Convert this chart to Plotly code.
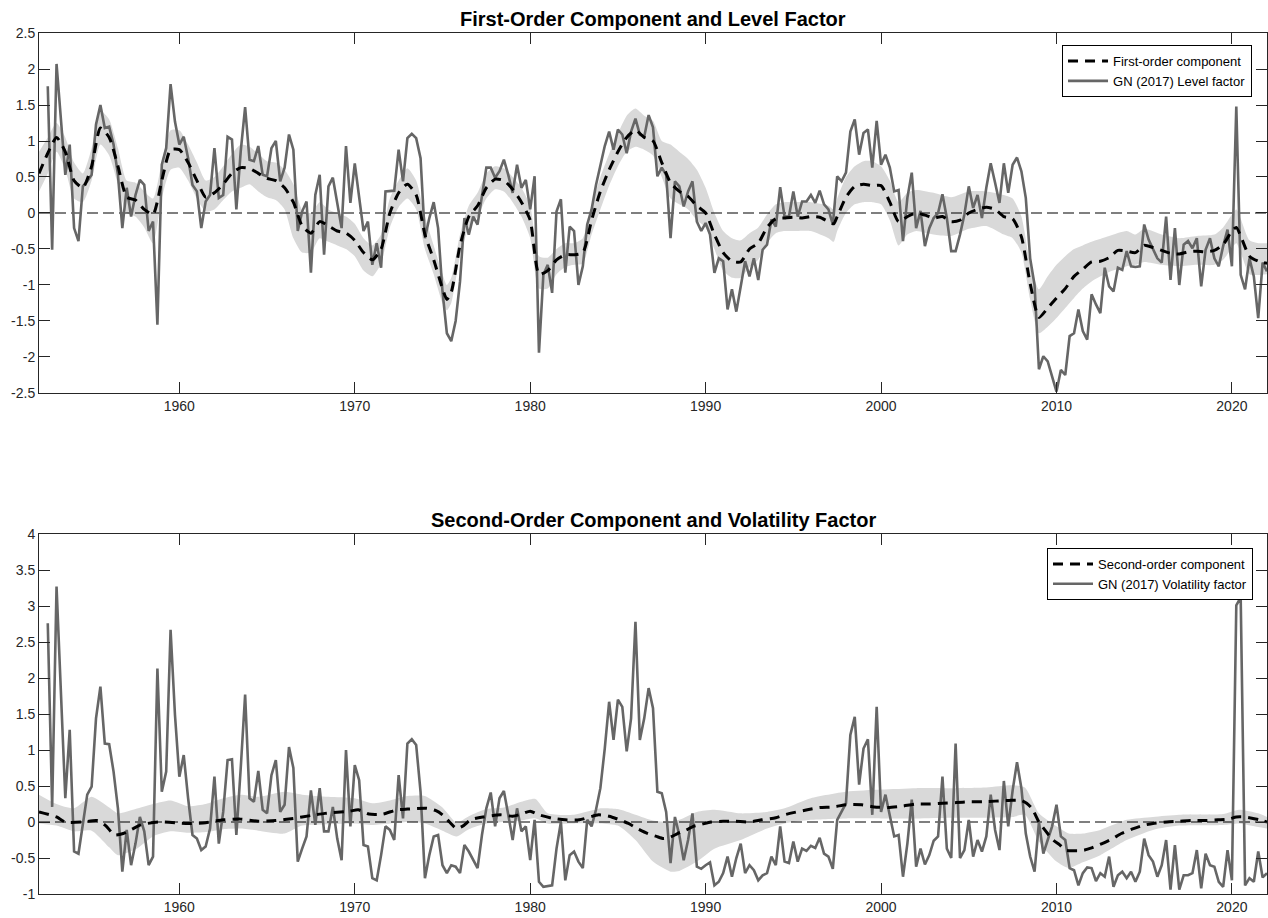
import numpy as np
import plotly.graph_objects as go

# ---------------- data ----------------
# quarterly observation dates (decimal years)
quarter_dates = np.arange(1952.5, 2022.0 + 0.125, 0.25)

# GN (2017) level factor, quarterly
gn_level = [
    1.76, -0.51, 2.07, 1.23, 0.53, 0.95, -0.21, -0.39, 0.37, 0.44,
    0.53, 1.23, 1.50, 1.18, 1.20, 0.95, 0.53, -0.21, 0.35, -0.05,
    0.25, 0.46, 0.39, -0.25, -0.12, -1.55, 0.67, 0.90, 1.79, 1.27,
    0.95, 1.06, 0.76, 0.39, 0.30, -0.21, 0.16, 0.25, 0.90, 0.21,
    0.25, 1.06, 1.02, 0.05, 0.86, 1.47, 0.74, 0.72, 0.93, 0.53,
    0.51, 0.90, 1.00, 0.44, 0.63, 1.09, 0.88, -0.25, 0.02, 0.16,
    -0.83, 0.25, 0.53, -0.58, 0.37, 0.49, 0.16, -0.21, 0.93, 0.14,
    0.69, 0.25, -0.25, -0.12, -0.72, -0.42, -0.76, 0.30, 0.31, 0.31,
    0.88, 0.44, 1.04, 1.10, 1.04, 0.76, -0.35, -0.07, 0.15, -0.21,
    -1.09, -1.67, -1.78, -1.50, -0.95, -0.07, -0.30, -0.05, -0.16, 0.23,
    0.63, 0.63, 0.49, 0.58, 0.74, 0.53, 0.28, 0.67, 0.35, 0.46,
    0.05, 0.51, -1.94, -0.86, -0.72, -1.11, 0.02, 0.19, -0.83, -0.19,
    -0.25, -1.00, -0.74, -0.16, 0.05, 0.39, 0.67, 0.93, 1.13, 0.88,
    1.16, 1.09, 0.83, 1.13, 1.31, 1.09, 1.06, 1.36, 1.19, 0.51,
    0.63, 0.53, -0.35, 0.44, 0.37, 0.09, 0.30, 0.44, -0.12, -0.25,
    -0.14, -0.30, -0.83, -0.63, -0.67, -1.34, -1.06, -1.37, -1.02, -0.67,
    -0.88, -0.63, -0.93, -0.51, -0.44, -0.09, -0.19, 0.36, -0.05, -0.05,
    0.30, -0.05, 0.16, 0.16, 0.25, 0.14, 0.31, 0.12, 0.05, -0.16,
    0.51, 0.44, 0.56, 1.13, 1.30, 0.81, 1.11, 1.16, 0.63, 1.28,
    0.67, 0.81, 0.63, 0.30, 0.32, -0.39, 0.21, 0.56, -0.21, 0.03,
    -0.46, -0.21, -0.07, 0.00, 0.26, -0.07, -0.53, -0.53, -0.30, -0.02,
    0.37, 0.07, 0.25, -0.07, 0.35, 0.69, 0.42, 0.14, 0.69, 0.28,
    0.67, 0.77, 0.58, 0.21, -0.63, -1.00, -2.17, -1.99, -2.06, -2.29,
    -2.48, -2.18, -2.25, -1.71, -1.67, -1.34, -1.64, -1.76, -1.13, -1.27,
    -1.39, -0.76, -1.02, -1.09, -0.76, -0.79, -0.53, -0.74, -0.75, -0.74,
    -0.16, -0.37, -0.49, -0.63, -0.69, -0.05, -0.93, -0.21, -1.00, -0.44,
    -0.39, -0.49, -0.35, -1.02, -0.51, -0.35, -0.63, -0.74, -0.46, -0.23,
    -0.74, 1.48, -0.86, -1.06, -0.63, -0.88, -1.46, -0.69, -0.81,
]

# GN (2017) volatility factor, quarterly
gn_vol = [
    2.76, 0.21, 3.27, 1.70, 0.33, 1.28, -0.41, -0.44, -0.04, 0.38,
    0.49, 1.44, 1.88, 1.09, 1.08, 0.70, 0.19, -0.69, -0.11, -0.60,
    -0.30, 0.07, -0.13, -0.60, -0.48, 2.13, 0.42, 0.70, 2.67, 1.49,
    0.63, 0.93, 0.33, -0.18, -0.23, -0.39, -0.34, -0.09, 0.63, -0.30,
    0.14, 0.86, 0.87, -0.18, 0.75, 1.77, 0.33, 0.28, 0.71, 0.17,
    0.12, 0.65, 0.86, 0.14, 0.24, 1.04, 0.75, -0.55, -0.37, -0.20,
    0.44, -0.04, 0.47, -0.13, -0.13, 0.21, -0.23, -0.53, 1.00, -0.06,
    0.79, 0.58, -0.32, -0.34, -0.78, -0.81, -0.46, -0.06, -0.11, -0.25,
    0.65, 0.05, 1.09, 1.15, 1.07, 0.42, -0.78, -0.46, -0.20, -0.18,
    -0.60, -0.71, -0.60, -0.62, -0.71, -0.32, -0.41, -0.53, -0.64, -0.18,
    0.19, 0.41, -0.06, 0.33, 0.43, 0.10, -0.25, 0.19, -0.13, -0.06,
    -0.53, 0.03, -0.83, -0.90, -0.89, -0.88, -0.37, 0.00, -0.81, -0.46,
    -0.41, -0.55, -0.64, 0.03, -0.06, 0.17, 0.47, 1.02, 1.67, 1.14,
    1.70, 1.60, 0.98, 1.44, 2.78, 1.14, 1.44, 1.86, 1.58, 0.42,
    0.40, 0.14, -0.57, 0.07, -0.18, -0.53, -0.25, 0.12, -0.62, -0.65,
    -0.60, -0.56, -0.88, -0.83, -0.71, -0.48, -0.76, -0.50, -0.30, -0.71,
    -0.60, -0.67, -0.81, -0.74, -0.71, -0.48, -0.60, -0.06, -0.55, -0.57,
    -0.27, -0.55, -0.37, -0.40, -0.33, -0.36, -0.22, -0.44, -0.48, -0.65,
    0.03, 0.14, 0.26, 1.21, 1.46, 0.52, 1.02, 1.15, 0.10, 1.60,
    0.14, 0.38, 0.07, -0.20, -0.18, -0.76, -0.30, 0.31, -0.62, -0.37,
    -0.59, -0.46, -0.26, -0.20, 0.63, -0.37, -0.50, 1.09, -0.50, -0.39,
    0.03, -0.48, -0.25, -0.41, -0.20, 0.38, -0.11, -0.39, 0.57, -0.06,
    0.44, 0.83, 0.47, -0.16, -0.48, -0.69, 0.00, -0.44, -0.25, -0.06,
    0.24, -0.20, -0.25, -0.64, -0.67, -0.88, -0.71, -0.63, -0.64, -0.82,
    -0.71, -0.76, -0.48, -0.90, -0.74, -0.69, -0.78, -0.69, -0.83, -0.69,
    -0.23, -0.46, -0.55, -0.76, -0.60, -0.25, -0.94, -0.32, -0.94, -0.74,
    -0.74, -0.71, -0.39, -0.92, -0.44, -0.60, -0.62, -0.83, -0.90, -0.39,
    -0.81, 3.01, 3.12, -0.88, -0.78, -0.83, -0.41, -0.77, -0.71,
]

# First-order component (posterior mean)
first_years = [
    1952.0, 1952.5, 1953.0, 1953.5, 1954.0, 1954.5, 1955.0, 1955.5, 1956.0, 1956.5,
    1957.0, 1957.5, 1958.0, 1958.5, 1959.0, 1959.5, 1960.0, 1960.5, 1961.0, 1961.5,
    1962.0, 1962.5, 1963.0, 1963.5, 1964.0, 1964.5, 1965.0, 1965.5, 1966.0, 1966.5,
    1967.0, 1967.5, 1968.0, 1968.5, 1969.0, 1969.5, 1970.0, 1970.5, 1971.0, 1971.5,
    1972.0, 1972.5, 1973.0, 1973.5, 1974.0, 1974.5, 1975.0, 1975.25, 1975.5, 1976.0,
    1976.5, 1977.0, 1977.5, 1978.0, 1978.5, 1979.0, 1979.5, 1980.0, 1980.5, 1981.0,
    1981.5, 1982.0, 1982.5, 1983.0, 1983.5, 1984.0, 1984.5, 1985.0, 1985.5, 1986.0,
    1986.5, 1987.0, 1987.5, 1988.0, 1988.5, 1989.0, 1989.5, 1990.0, 1990.5, 1991.0,
    1991.5, 1992.0, 1992.5, 1993.0, 1993.5, 1994.0, 1994.5, 1995.0, 1995.5, 1996.0,
    1996.5, 1997.0, 1997.3, 1997.5, 1998.0, 1998.5, 1999.0, 1999.5, 2000.0, 2000.5,
    2001.0, 2001.5, 2002.0, 2002.5, 2003.0, 2003.5, 2004.0, 2004.5, 2005.0, 2005.5,
    2006.0, 2006.5, 2007.0, 2007.5, 2008.0, 2008.5, 2009.0, 2009.5, 2010.0, 2010.5,
    2011.0, 2011.5, 2012.0, 2012.5, 2013.0, 2013.5, 2014.0, 2014.5, 2015.0, 2015.5,
    2016.0, 2016.5, 2017.0, 2017.5, 2018.0, 2018.5, 2019.0, 2019.5, 2020.0, 2020.25,
    2020.5, 2021.0, 2021.5, 2022.0,
]
first_comp = [
    0.55, 0.83, 1.05, 0.85, 0.45, 0.35, 0.65, 1.18, 1.05, 0.65,
    0.22, 0.18, 0.05, -0.02, 0.45, 0.88, 0.88, 0.70, 0.45, 0.22,
    0.28, 0.40, 0.55, 0.63, 0.62, 0.55, 0.48, 0.45, 0.35, 0.15,
    -0.18, -0.28, -0.12, -0.18, -0.25, -0.28, -0.38, -0.55, -0.65, -0.50,
    0.00, 0.28, 0.40, 0.25, -0.30, -0.65, -1.05, -1.20, -1.10, -0.45,
    -0.05, 0.10, 0.35, 0.47, 0.45, 0.33, 0.15, -0.10, -0.85, -0.80,
    -0.65, -0.58, -0.58, -0.55, -0.10, 0.30, 0.60, 0.85, 1.05, 1.15,
    1.05, 1.00, 0.70, 0.42, 0.30, 0.23, 0.10, 0.00, -0.30, -0.55,
    -0.67, -0.68, -0.50, -0.42, -0.20, -0.08, -0.07, -0.06, -0.07, -0.05,
    -0.06, -0.12, -0.15, -0.05, 0.22, 0.37, 0.40, 0.38, 0.38, 0.15,
    -0.12, -0.05, 0.00, -0.03, -0.07, -0.05, -0.12, -0.10, 0.00, 0.05,
    0.08, 0.05, -0.05, -0.08, -0.33, -0.98, -1.45, -1.32, -1.18, -1.05,
    -0.88, -0.78, -0.68, -0.67, -0.62, -0.52, -0.53, -0.55, -0.45, -0.48,
    -0.52, -0.56, -0.57, -0.54, -0.53, -0.54, -0.52, -0.44, -0.25, -0.20,
    -0.32, -0.60, -0.67, -0.70,
]

# First-order component credible band
first_band_years = [
    1952.0, 1952.5, 1953.0, 1953.5, 1954.0, 1954.5, 1955.0, 1955.5, 1956.0, 1956.5,
    1957.0, 1957.5, 1958.0, 1958.5, 1959.0, 1959.5, 1960.0, 1960.5, 1961.0, 1961.5,
    1962.0, 1962.5, 1963.0, 1963.5, 1964.0, 1964.5, 1965.0, 1965.5, 1966.0, 1966.5,
    1967.0, 1967.5, 1968.0, 1968.5, 1969.0, 1969.5, 1970.0, 1970.5, 1971.0, 1971.5,
    1972.0, 1972.5, 1973.0, 1973.5, 1974.0, 1974.5, 1975.0, 1975.25, 1975.5, 1976.0,
    1976.5, 1977.0, 1977.5, 1978.0, 1978.5, 1979.0, 1979.5, 1980.0, 1980.5, 1981.0,
    1981.5, 1982.0, 1982.5, 1983.0, 1983.5, 1984.0, 1984.5, 1985.0, 1985.5, 1986.0,
    1986.5, 1987.0, 1987.5, 1988.0, 1988.5, 1989.0, 1989.5, 1990.0, 1990.5, 1991.0,
    1991.5, 1992.0, 1992.5, 1993.0, 1993.5, 1994.0, 1994.5, 1995.0, 1996.0, 1997.0,
    1997.3, 1997.5, 1998.0, 1998.5, 1999.0, 1999.5, 2000.0, 2000.5, 2001.0, 2001.5,
    2002.0, 2003.0, 2004.0, 2005.0, 2006.0, 2007.0, 2007.5, 2008.0, 2008.5, 2009.0,
    2009.5, 2010.0, 2010.5, 2011.0, 2011.5, 2012.0, 2013.0, 2014.0, 2014.5, 2015.0,
    2016.0, 2017.0, 2018.0, 2019.0, 2019.5, 2020.25, 2020.5, 2021.0, 2021.5, 2022.0,
]
first_lower = [
    0.30, 0.55, 0.85, 0.60, 0.20, 0.15, 0.45, 0.95, 0.80, 0.40,
    0.00, -0.05, -0.20, -0.42, 0.20, 0.60, 0.63, 0.45, 0.20, 0.02,
    0.05, 0.18, 0.30, 0.35, 0.40, 0.30, 0.22, 0.18, 0.05, -0.35,
    -0.55, -0.55, -0.35, -0.40, -0.45, -0.50, -0.60, -0.80, -0.88, -0.70,
    -0.20, 0.08, 0.20, 0.05, -0.50, -0.85, -1.25, -1.35, -1.25, -0.60,
    -0.20, -0.05, 0.20, 0.33, 0.30, 0.15, -0.05, -0.35, -1.05, -1.05,
    -0.85, -0.75, -0.72, -0.70, -0.30, 0.05, 0.38, 0.65, 0.85, 0.92,
    0.88, 0.80, 0.50, 0.20, 0.12, 0.05, -0.10, -0.20, -0.50, -0.80,
    -0.90, -0.90, -0.75, -0.65, -0.42, -0.28, -0.25, -0.25, -0.25, -0.35,
    -0.40, -0.25, 0.00, 0.12, 0.15, 0.15, 0.12, -0.10, -0.45, -0.30,
    -0.25, -0.30, -0.32, -0.22, -0.18, -0.30, -0.35, -0.55, -1.20, -1.67,
    -1.58, -1.46, -1.32, -1.18, -1.05, -0.95, -0.82, -0.74, -0.72, -0.68,
    -0.72, -0.74, -0.72, -0.72, -0.65, -0.42, -0.55, -0.85, -0.86, -0.85,
]
first_upper = [
    0.85, 1.05, 1.25, 1.05, 0.70, 0.55, 0.90, 1.42, 1.30, 0.90,
    0.45, 0.42, 0.30, 0.20, 0.70, 1.15, 1.15, 0.95, 0.70, 0.45,
    0.50, 0.65, 0.82, 0.95, 0.92, 0.82, 0.72, 0.70, 0.60, 0.40,
    0.05, 0.00, 0.15, 0.05, 0.00, -0.05, -0.15, -0.35, -0.45, -0.30,
    0.20, 0.45, 0.62, 0.45, -0.05, -0.45, -0.85, -1.00, -0.90, -0.30,
    0.10, 0.28, 0.55, 0.65, 0.62, 0.50, 0.35, 0.10, -0.60, -0.62,
    -0.50, -0.42, -0.42, -0.35, 0.10, 0.50, 0.82, 1.10, 1.35, 1.45,
    1.35, 1.28, 1.00, 0.95, 0.85, 0.75, 0.60, 0.35, 0.00, -0.25,
    -0.35, -0.38, -0.28, -0.20, -0.02, 0.12, 0.15, 0.15, 0.15, 0.10,
    0.05, 0.20, 0.50, 0.65, 0.72, 0.72, 0.65, 0.45, 0.15, 0.28,
    0.32, 0.28, 0.22, 0.30, 0.30, 0.25, 0.20, -0.05, -0.70, -1.06,
    -0.88, -0.72, -0.60, -0.50, -0.45, -0.40, -0.32, -0.25, -0.30, -0.22,
    -0.30, -0.35, -0.32, -0.30, -0.20, 0.05, -0.08, -0.38, -0.42, -0.42,
]

# Second-order component (posterior mean)
second_years = [
    1952.0, 1953.0, 1953.5, 1954.5, 1955.3, 1955.8, 1956.3, 1956.8, 1957.3, 1957.8,
    1958.8, 1960.5, 1961.5, 1962.5, 1963.5, 1964.5, 1965.5, 1966.5, 1967.5, 1968.3,
    1969.7, 1970.2, 1970.8, 1971.6, 1972.4, 1973.0, 1974.1, 1974.6, 1975.0, 1975.4,
    1975.8, 1976.2, 1976.6, 1977.3, 1978.3, 1979.0, 1979.5, 1980.0, 1980.5, 1981.3,
    1982.0, 1982.8, 1983.9, 1984.5, 1985.1, 1985.6, 1986.1, 1986.7, 1987.2, 1987.6,
    1988.0, 1988.4, 1988.9, 1989.3, 1989.8, 1990.3, 1991.0, 1991.7, 1992.5, 1993.2,
    1994.0, 1994.5, 1995.0, 1995.8, 1996.5, 1997.3, 1998.0, 1998.9, 1999.6, 2000.4,
    2001.2, 2002.0, 2002.8, 2003.5, 2004.3, 2005.0, 2005.8, 2006.5, 2007.3, 2008.0,
    2008.3, 2008.6, 2009.0, 2009.4, 2009.8, 2010.2, 2010.5, 2010.9, 2011.3, 2011.6,
    2012.0, 2012.6, 2013.2, 2013.7, 2014.3, 2014.9, 2015.5, 2016.3, 2017.0, 2017.7,
    2018.5, 2019.2, 2019.8, 2020.25, 2020.7, 2021.2, 2021.6, 2022.0,
]
second_comp = [
    0.14, 0.07, 0.00, 0.00, 0.02, -0.05, -0.18, -0.16, -0.10, -0.04,
    0.00, -0.02, -0.01, 0.03, 0.04, 0.01, 0.02, 0.05, 0.09, 0.12,
    0.15, 0.17, 0.11, 0.11, 0.17, 0.18, 0.19, 0.16, 0.10, 0.00,
    -0.09, -0.05, 0.03, 0.07, 0.10, 0.08, 0.11, 0.15, 0.10, 0.05,
    0.03, 0.03, 0.10, 0.08, 0.03, -0.02, -0.09, -0.16, -0.20, -0.23,
    -0.21, -0.16, -0.11, -0.06, -0.03, 0.00, 0.01, 0.01, 0.00, 0.03,
    0.06, 0.10, 0.13, 0.17, 0.20, 0.21, 0.24, 0.24, 0.21, 0.20,
    0.22, 0.25, 0.25, 0.26, 0.27, 0.28, 0.28, 0.29, 0.30, 0.30,
    0.26, 0.19, 0.00, -0.13, -0.25, -0.32, -0.39, -0.40, -0.40, -0.39,
    -0.36, -0.30, -0.23, -0.16, -0.10, -0.05, -0.02, 0.00, 0.01, 0.02,
    0.02, 0.03, 0.04, 0.07, 0.07, 0.05, 0.03, 0.00,
]

# Second-order component credible band
second_band_years = [
    1952.0, 1953.0, 1954.0, 1955.0, 1956.0, 1956.5, 1957.5, 1958.5, 1959.5, 1960.5,
    1961.5, 1962.5, 1963.5, 1964.5, 1966.0, 1967.0, 1968.5, 1970.0, 1971.0, 1972.0,
    1973.0, 1974.0, 1975.0, 1975.8, 1976.5, 1977.5, 1978.5, 1979.5, 1980.3, 1981.0,
    1982.5, 1984.0, 1985.0, 1986.0, 1987.0, 1988.0, 1988.5, 1989.5, 1990.5, 1992.0,
    1993.5, 1994.5, 1996.0, 1998.0, 2000.0, 2002.0, 2004.0, 2006.0, 2007.5, 2008.2,
    2009.0, 2010.0, 2010.7, 2011.5, 2012.5, 2014.0, 2015.5, 2017.0, 2019.5, 2020.4,
    2021.5, 2022.0,
]
second_lower = [
    -0.02, -0.05, -0.13, -0.12, -0.35, -0.46, -0.38, -0.20, -0.13, -0.15,
    -0.14, -0.10, -0.09, -0.12, -0.16, -0.05, -0.03, -0.02, -0.04, -0.02,
    0.00, -0.02, -0.12, -0.20, -0.10, -0.02, 0.00, 0.02, 0.05, -0.02,
    -0.02, -0.02, -0.05, -0.25, -0.55, -0.69, -0.68, -0.55, -0.37, -0.25,
    -0.09, -0.02, 0.03, 0.05, 0.05, 0.05, 0.06, 0.06, 0.07, 0.10,
    -0.27, -0.55, -0.64, -0.56, -0.46, -0.25, -0.11, -0.05, -0.04, -0.02,
    -0.07, -0.09,
]
second_upper = [
    0.38, 0.25, 0.19, 0.35, 0.20, 0.12, 0.18, 0.25, 0.30, 0.22,
    0.25, 0.33, 0.38, 0.35, 0.42, 0.38, 0.35, 0.33, 0.26, 0.30,
    0.36, 0.36, 0.20, -0.01, 0.08, 0.18, 0.20, 0.28, 0.32, 0.12,
    0.10, 0.19, 0.18, 0.10, 0.02, 0.00, 0.03, 0.14, 0.17, 0.12,
    0.14, 0.19, 0.33, 0.42, 0.45, 0.47, 0.47, 0.48, 0.51, 0.48,
    0.12, -0.06, -0.16, -0.16, -0.11, 0.03, 0.07, 0.10, 0.11, 0.17,
    0.12, 0.07,
]

# axis ticks
x_tick_vals = [1960, 1970, 1980, 1990, 2000, 2010, 2020]
x_tick_text = ["1960", "1970", "1980", "1990", "2000", "2010", "2020"]
top_y_vals = [-2.5, -2, -1.5, -1, -0.5, 0, 0.5, 1, 1.5, 2, 2.5]
top_y_text = ["-2.5", "-2", "-1.5", "-1", "-0.5", "0", "0.5", "1", "1.5", "2", "2.5"]
bot_y_vals = [-1, -0.5, 0, 0.5, 1, 1.5, 2, 2.5, 3, 3.5, 4]
bot_y_text = ["-1", "-0.5", "0", "0.5", "1", "1.5", "2", "2.5", "3", "3.5", "4"]

titles = ["First-Order Component and Level Factor",
          "Second-Order Component and Volatility Factor"]

# ---------------- styling ----------------
FONT = "Liberation Sans, Arial, Helvetica, sans-serif"
AXIS_COLOR = "#262626"
BAND_COLOR = "#d9d9d9"
GN_COLOR = "#666666"
X_RANGE = [1952, 2022]

fig = go.Figure()


def add_panel(xa, ya, legend_id, band_x, lo, hi, comp_x, comp_y, comp_name, gn_y, gn_name):
    # shaded credible band
    fig.add_trace(go.Scatter(
        x=band_x, y=lo, mode="lines", line=dict(width=0, color=BAND_COLOR, shape="spline", smoothing=0.6),
        showlegend=False, hoverinfo="skip", xaxis=xa, yaxis=ya))
    fig.add_trace(go.Scatter(
        x=band_x, y=hi, mode="lines", line=dict(width=0, color=BAND_COLOR, shape="spline", smoothing=0.6),
        fill="tonexty", fillcolor=BAND_COLOR, showlegend=False, hoverinfo="skip", xaxis=xa, yaxis=ya))
    # zero reference line
    fig.add_trace(go.Scatter(
        x=X_RANGE, y=[0, 0], mode="lines", line=dict(color="black", width=1.2, dash="11px,5px"),
        showlegend=False, hoverinfo="skip", xaxis=xa, yaxis=ya))
    # GN (2017) factor
    fig.add_trace(go.Scatter(
        x=quarter_dates, y=gn_y, mode="lines", name=gn_name,
        line=dict(color=GN_COLOR, width=2.6), legend=legend_id, legendrank=2,
        xaxis=xa, yaxis=ya))
    # model component
    fig.add_trace(go.Scatter(
        x=comp_x, y=comp_y, mode="lines", name=comp_name,
        line=dict(color="black", width=3, dash="10px,7px", shape="spline", smoothing=0.6),
        legend=legend_id, legendrank=1, xaxis=xa, yaxis=ya))


add_panel("x", "y", "legend", first_band_years, first_lower, first_upper,
          first_years, first_comp, "First-order component", gn_level, "GN (2017) Level factor")
add_panel("x2", "y2", "legend2", second_band_years, second_lower, second_upper,
          second_years, second_comp, "Second-order component", gn_vol, "GN (2017) Volatility factor")

axis_common = dict(
    ticks="inside", ticklen=11, tickwidth=1, tickcolor=AXIS_COLOR,
    showline=True, linecolor=AXIS_COLOR, linewidth=1, mirror="allticks",
    showgrid=False, zeroline=False,
    tickfont=dict(family=FONT, size=14, color=AXIS_COLOR),
)

# plot areas: top 33-393 px, bottom 534-894 px of the 918 px page
TOP_DOMAIN = [0.5819, 1.0]
BOT_DOMAIN = [0.0, 0.4181]

legend_common = dict(
    xanchor="right", yanchor="top", bgcolor="white", bordercolor="black", borderwidth=1,
    font=dict(family=FONT, size=13, color="black"), tracegroupgap=0, itemwidth=40,
    traceorder="normal",
)

fig.update_layout(
    width=1268, height=918,
    margin=dict(l=39, r=1, t=33, b=24),
    paper_bgcolor="white", plot_bgcolor="white",
    font=dict(family=FONT, color=AXIS_COLOR),
    xaxis=dict(domain=[0, 1], anchor="y", range=X_RANGE, tickvals=x_tick_vals, ticktext=x_tick_text, **axis_common),
    yaxis=dict(domain=TOP_DOMAIN, anchor="x", range=[-2.5, 2.5], tickvals=top_y_vals, ticktext=top_y_text, **axis_common),
    xaxis2=dict(domain=[0, 1], anchor="y2", range=X_RANGE, tickvals=x_tick_vals, ticktext=x_tick_text, **axis_common),
    yaxis2=dict(domain=BOT_DOMAIN, anchor="x2", range=[-1, 4], tickvals=bot_y_vals, ticktext=bot_y_text, **axis_common),
    legend=dict(x=0.9878, y=0.986, **legend_common),
    legend2=dict(x=0.9886, y=0.4019, **legend_common),
    annotations=[
        dict(text="<b>" + titles[0] + "</b>", xref="paper", yref="paper", x=0.5, y=1.0163,
             xanchor="center", yanchor="middle", showarrow=False,
             font=dict(family=FONT, size=20, color="black")),
        dict(text="<b>" + titles[1] + "</b>", xref="paper", yref="paper", x=0.5, y=0.4344,
             xanchor="center", yanchor="middle", showarrow=False,
             font=dict(family=FONT, size=20, color="black")),
    ],
)

fig.write_html("out.html")
